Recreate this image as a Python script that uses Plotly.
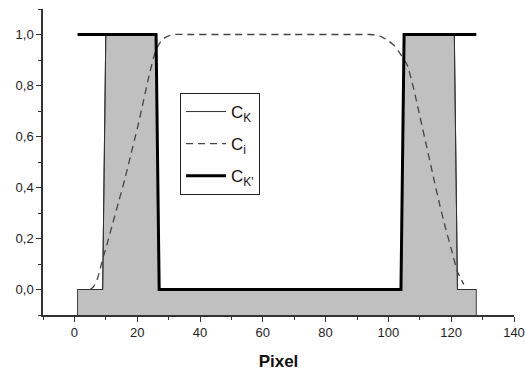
import plotly.graph_objects as go

# Pixel positions along the profile
pixels = list(range(1, 129))

# C_K: binary mask (thin line, grey fill beneath)
c_k = [0] * 9 + [1] * 17 + [0] * 78 + [1] * 17 + [0] * 7
# C_K': thick binary mask
c_k2 = [1] * 26 + [0] * 78 + [1] * 24

# C_i: smooth transition curve (dashed)
ci_x = [5, 6, 7, 8, 9, 10, 12, 14, 16, 18, 20, 22, 24, 26, 28, 30, 32, 36, 50, 70, 90,
        94, 96, 98, 100, 102, 104, 105, 106, 108, 110, 112, 114, 116, 118, 120, 122, 124]
ci_y = [0.0, 0.01, 0.03, 0.07, 0.12, 0.16, 0.25, 0.34, 0.43, 0.53, 0.63, 0.74, 0.85, 0.94, 0.98, 0.995, 1.0, 1.0, 1.0, 1.0, 1.0,
        1.0, 0.998, 0.99, 0.975, 0.955, 0.92, 0.90, 0.88, 0.79, 0.68, 0.57, 0.46, 0.35, 0.25, 0.16, 0.07, 0.02]

# Axis ticks
x_range = [-10, 140]
y_range = [-0.1, 1.1]
y_tickvals = [0.0, 0.2, 0.4, 0.6, 0.8, 1.0]
y_ticktext = ["0,0", "0,2", "0,4", "0,6", "0,8", "1,0"]
y_minor = [-0.1, 0.1, 0.3, 0.5, 0.7, 0.9, 1.1]

FONT = "Liberation Sans, Arial, sans-serif"
AXIS_COLOR = "#333333"

fig = go.Figure()

# Grey area under C_K down to the bottom of the axis
fill_x = [pixels[0]] + pixels + [pixels[-1]]
fill_y = [y_range[0]] + c_k + [y_range[0]]
fig.add_trace(go.Scatter(
    x=fill_x, y=fill_y, mode="lines", fill="toself",
    fillcolor="#c0c0c0", line=dict(color="#404040", width=1),
    showlegend=False, hoverinfo="skip"))

fig.add_trace(go.Scatter(
    x=pixels, y=c_k, mode="lines", name="C<sub>K</sub>",
    line=dict(color="#303030", width=1), legendgroup="a"))

fig.add_trace(go.Scatter(
    x=ci_x, y=ci_y, mode="lines", name="C<sub>i</sub>",
    line=dict(color="#444444", width=1.3, dash="7px,5px", shape="spline", smoothing=0.6),
    legendgroup="b"))

fig.add_trace(go.Scatter(
    x=pixels, y=c_k2, mode="lines", name="C<sub>K'</sub>",
    line=dict(color="#000000", width=3), legendgroup="c"))

fig.update_layout(
    width=525, height=371,
    margin=dict(l=43, r=11, t=9, b=56),
    plot_bgcolor="white", paper_bgcolor="white",
    font=dict(family=FONT, color="#222222", size=13),
    legend=dict(
        x=(180 - 43) / 471, y=(315 - 93) / 306, xanchor="left", yanchor="top",
        bordercolor="#222222", borderwidth=1, bgcolor="white",
        font=dict(size=17, family=FONT, color="#111111"),
        itemwidth=40, tracegroupgap=7, traceorder="grouped"),
    xaxis=dict(
        range=x_range, showgrid=False, zeroline=False, automargin=False,
        showline=True, linecolor=AXIS_COLOR, linewidth=1.5,
        ticks="outside", ticklen=5, tickwidth=1.3, tickcolor=AXIS_COLOR,
        tick0=0, dtick=20,
        minor=dict(ticks="outside", ticklen=3, tickwidth=1.3, tickcolor=AXIS_COLOR,
                   tick0=0, dtick=10),
        title=dict(text="<b>Pixel</b>", font=dict(size=17, color="#111111"), standoff=18),
    ),
    yaxis=dict(
        range=y_range, showgrid=False, zeroline=False, automargin=False,
        showline=True, linecolor=AXIS_COLOR, linewidth=1.5,
        ticks="outside", ticklen=5, tickwidth=1.3, tickcolor=AXIS_COLOR,
        tickmode="array", tickvals=y_tickvals, ticktext=y_ticktext,
        minor=dict(ticks="outside", ticklen=3, tickwidth=1.3, tickcolor=AXIS_COLOR,
                   tickmode="array", tickvals=y_minor),
    ),
)

fig.write_html("out.html")
